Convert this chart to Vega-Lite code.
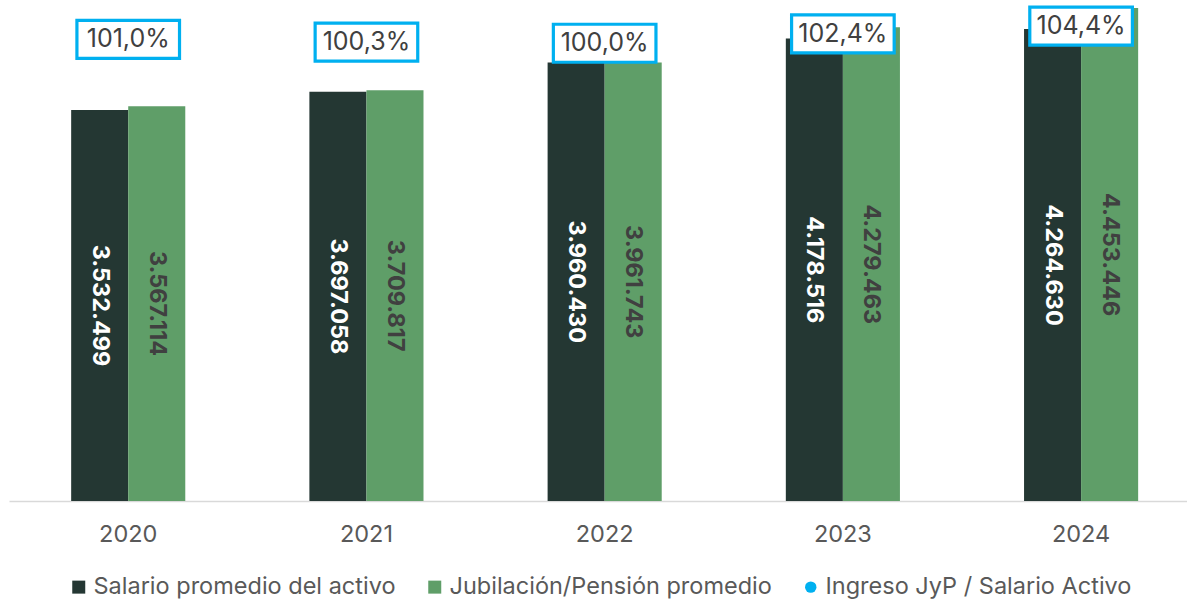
{
  "$schema": "https://vega.github.io/schema/vega-lite/v6.json",
  "width": 1178,
  "height": 501,
  "autosize": {"type": "none"},
  "padding": {"left": 9, "top": 0, "right": 0, "bottom": 99},
  "background": "white",
  "config": {
    "view": {"stroke": null},
    "font": "Inter",
    "locale": {"number": {"decimal": ",", "thousands": ".", "grouping": [3], "currency": ["$", ""], "percent": "%"}}
  },
  "datasets": {
    "bars": [
      {"year": "2020", "serie": "Salario promedio del activo", "value": 3532499},
      {"year": "2020", "serie": "Jubilación/Pensión promedio", "value": 3567114},
      {"year": "2021", "serie": "Salario promedio del activo", "value": 3697058},
      {"year": "2021", "serie": "Jubilación/Pensión promedio", "value": 3709817},
      {"year": "2022", "serie": "Salario promedio del activo", "value": 3960430},
      {"year": "2022", "serie": "Jubilación/Pensión promedio", "value": 3961743},
      {"year": "2023", "serie": "Salario promedio del activo", "value": 4178516},
      {"year": "2023", "serie": "Jubilación/Pensión promedio", "value": 4279463},
      {"year": "2024", "serie": "Salario promedio del activo", "value": 4264630},
      {"year": "2024", "serie": "Jubilación/Pensión promedio", "value": 4453446}
    ],
    "ratio": [
      {"year": "2020", "serie": "Ingreso JyP / Salario Activo", "ratio": 1.010},
      {"year": "2021", "serie": "Ingreso JyP / Salario Activo", "ratio": 1.003},
      {"year": "2022", "serie": "Ingreso JyP / Salario Activo", "ratio": 1.000},
      {"year": "2023", "serie": "Ingreso JyP / Salario Activo", "ratio": 1.024},
      {"year": "2024", "serie": "Ingreso JyP / Salario Activo", "ratio": 1.044}
    ]
  },
  "encoding": {
    "x": {
      "field": "year", "type": "nominal", "title": null,
      "scale": {"paddingInner": 0.521, "paddingOuter": 0.233, "align": 0.56},
      "axis": {
        "labelAngle": 0, "labelFontSize": 23.5, "labelColor": "#595959", "labelPadding": 21,
        "ticks": false, "domainColor": "#d9d9d9", "domainWidth": 1.5, "grid": false
      }
    }
  },
  "layer": [
    {
      "data": {"name": "bars"},
      "encoding": {
        "xOffset": {"field": "serie", "type": "nominal", "sort": ["Salario promedio del activo", "Jubilación/Pensión promedio"], "scale": {"paddingInner": 0, "paddingOuter": 0}}
      },
      "layer": [
        {
          "mark": {"type": "bar"},
          "encoding": {
            "y": {"field": "value", "type": "quantitative", "scale": {"domain": [0, 4526000], "nice": false}, "axis": null},
            "color": {
              "field": "serie", "type": "nominal",
              "scale": {
                "domain": ["Salario promedio del activo", "Jubilación/Pensión promedio", "Ingreso JyP / Salario Activo"],
                "range": ["#243733", "#5f9e68", "#00b0f0"]
              },
              "legend": {
                "title": null, "orient": "none", "legendX": 58, "legendY": 575, "direction": "horizontal",
                "labelFontSize": 23.5, "labelColor": "#595959", "symbolSize": 169, "symbolType": "square",
                "symbolStrokeWidth": 0, "labelOffset": 3, "columnPadding": 27,
                "labelLimit": 500,
                "encode": {"symbols": {"update": {"shape": {"signal": "datum.value === 'Ingreso JyP / Salario Activo' ? 'circle' : 'square'"}, "size": {"signal": "datum.value === 'Ingreso JyP / Salario Activo' ? 130 : 169"}}}}
              }
            }
          }
        },
        {
          "transform": [{"calculate": "datum.value / 2", "as": "mid"}],
          "mark": {"type": "text", "angle": 90, "fontSize": 23.5, "fontWeight": "bold", "align": "center", "baseline": "middle"},
          "encoding": {
            "y": {"field": "mid", "type": "quantitative", "scale": {"domain": [0, 4526000], "nice": false}, "axis": null},
            "text": {"field": "value", "type": "quantitative", "format": ",d"},
            "color": {"condition": {"test": "datum.serie === 'Salario promedio del activo'", "value": "#ffffff"}, "value": "#404040"}
          }
        }
      ]
    },
    {
      "data": {"name": "ratio"},
      "encoding": {
        "y": {"field": "ratio", "type": "quantitative", "scale": {"domain": [-0.17, 1.1106], "nice": false, "zero": false}, "axis": null}
      },
      "layer": [
        {
          "mark": {"type": "point", "shape": "circle", "filled": true, "size": 60, "opacity": 1},
          "encoding": {"color": {"field": "serie", "type": "nominal"}}
        },
        {
          "mark": {"type": "point", "shape": "M-2.7,-1H2.7V1H-2.7Z", "size": 1444, "filled": false, "fill": "#ffffff", "fillOpacity": 1, "stroke": "#00b0f0", "strokeWidth": 3.2, "opacity": 1}
        },
        {
          "mark": {"type": "text", "fontSize": 25, "color": "#404040", "align": "center", "baseline": "middle"},
          "encoding": {"text": {"field": "ratio", "type": "quantitative", "format": ".1%"}}
        }
      ]
    }
  ],
  "resolve": {"scale": {"y": "independent"}}
}
